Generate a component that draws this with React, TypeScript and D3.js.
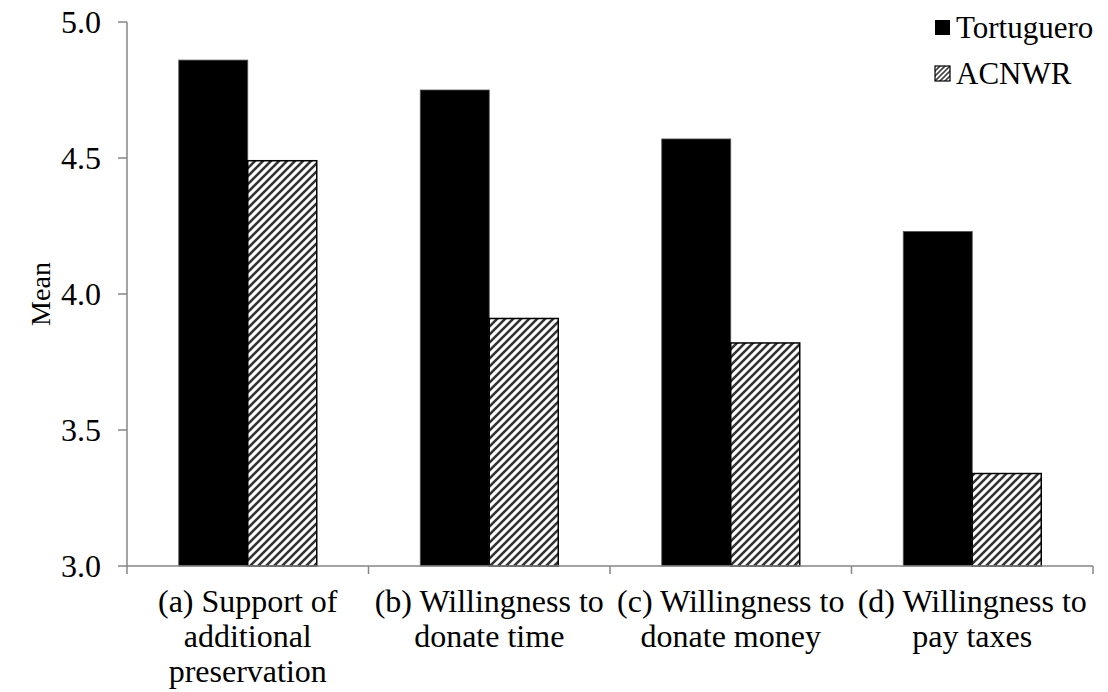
import React from "react";
import * as d3 from "d3";

const categories = [
  ["(a) Support of", "additional", "preservation"],
  ["(b) Willingness to", "donate time"],
  ["(c) Willingness to", "donate money"],
  ["(d) Willingness to", "pay taxes"],
];
const seriesNames = ["Tortuguero", "ACNWR"];
const tortuguero = [4.86, 4.75, 4.57, 4.23];
const acnwr = [4.49, 3.91, 3.82, 3.34];
const yTicks = [3.0, 3.5, 4.0, 4.5, 5.0];

const W = 1108;
const H = 692;
const left = 127;
const right = 1093;
const top = 22;
const bottom = 566;
const FONT = "Liberation Serif";
const AXIS = "#868686";

export default function App() {
  const idx = categories.map((_, i) => String(i));
  const x0 = d3.scaleBand<string>().domain(idx).range([left, right]).paddingInner(0).paddingOuter(0);
  const x1 = d3
    .scaleBand<string>()
    .domain(seriesNames)
    .range([0, x0.bandwidth()])
    .paddingInner(0)
    .paddingOuter(0.75);
  const y = d3.scaleLinear().domain([3, 5]).range([bottom, top]);
  const values = [tortuguero, acnwr];

  return (
    <svg
      width={W}
      height={H}
      style={{ position: "absolute", left: 0, top: 0, background: "#fff" }}
      fontFamily={FONT}
    >
      <defs>
        <pattern id="hatch" width={8} height={8} patternUnits="userSpaceOnUse">
          <rect width={8} height={8} fill="#fff" />
          <path d="M-2,2 L2,-2 M0,8 L8,0 M6,10 L10,6" stroke="#333" strokeWidth={2.6} />
        </pattern>
        <pattern id="hatchSmall" width={5} height={5} patternUnits="userSpaceOnUse">
          <rect width={5} height={5} fill="#fff" />
          <path d="M-1,1 L1,-1 M0,5 L5,0 M4,6 L6,4" stroke="#444" strokeWidth={1.6} />
        </pattern>
      </defs>

      {idx.map((c, i) =>
        seriesNames.map((s, j) => {
          const v = values[j][i];
          const bx = (x0(c) ?? 0) + (x1(s) ?? 0);
          return (
            <rect
              key={c + s}
              x={bx}
              y={y(v)}
              width={x1.bandwidth()}
              height={bottom - y(v)}
              fill={j === 0 ? "#000" : "url(#hatch)"}
              stroke={j === 0 ? "#555" : "#000"}
              strokeWidth={j === 0 ? 0.8 : 1.5}
            />
          );
        })
      )}

      <line x1={left} x2={left} y1={top} y2={bottom} stroke={AXIS} strokeWidth={1.5} />
      {yTicks.map((t) => (
        <g key={t}>
          <line x1={left - 9} x2={left} y1={y(t)} y2={y(t)} stroke={AXIS} strokeWidth={1.5} />
          <text x={101} y={y(t)} dy="0.35em" textAnchor="end" fontSize={32} fill="#000">
            {t.toFixed(1)}
          </text>
        </g>
      ))}
      <text
        transform={`translate(40, ${(top + bottom) / 2}) rotate(-90)`}
        textAnchor="middle"
        dy="0.35em"
        fontSize={28}
        fill="#000"
      >
        Mean
      </text>

      <line x1={left} x2={right} y1={bottom} y2={bottom} stroke={AXIS} strokeWidth={1.5} />
      {[...idx.map((c) => x0(c) ?? 0), right].map((px, i) => (
        <line key={i} x1={px} x2={px} y1={bottom} y2={bottom + 8} stroke={AXIS} strokeWidth={1.5} />
      ))}
      {idx.map((c, i) =>
        categories[i].map((ln, k) => (
          <text
            key={c + k}
            x={(x0(c) ?? 0) + x0.bandwidth() / 2}
            y={612 + k * 35}
            textAnchor="middle"
            fontSize={32}
            fill="#000"
          >
            {ln}
          </text>
        ))
      )}

      {seriesNames.map((s, j) => (
        <g key={s} transform={`translate(935, ${20 + j * 46})`}>
          <rect
            x={0}
            y={0}
            width={15}
            height={15}
            fill={j === 0 ? "#000" : "url(#hatchSmall)"}
            stroke="#000"
            strokeWidth={j === 0 ? 0 : 1.2}
          />
          <text x={21} y={7.5} dy="0.35em" fontSize={31} fill="#000">
            {s}
          </text>
        </g>
      ))}
    </svg>
  );
}
